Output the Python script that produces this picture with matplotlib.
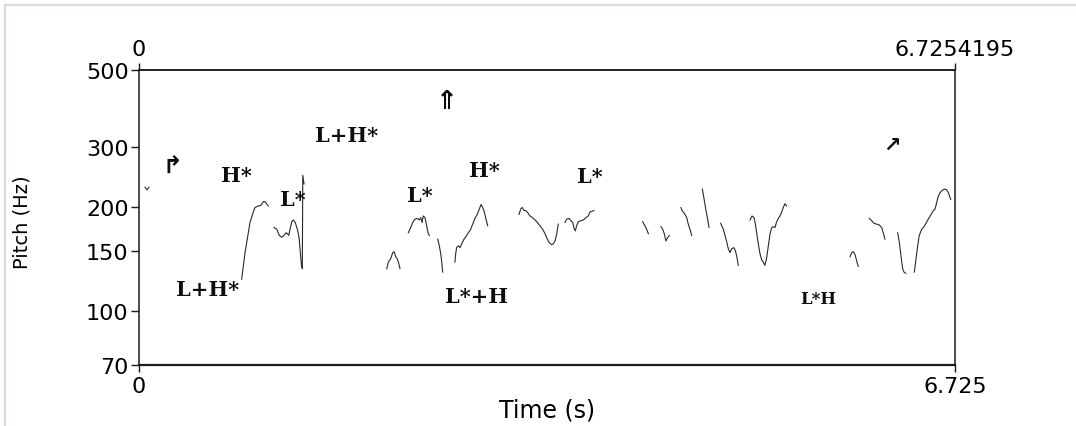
import matplotlib
matplotlib.use("Agg")
import matplotlib.pyplot as plt
from matplotlib.ticker import NullLocator, FixedLocator, FixedFormatter
from matplotlib.lines import Line2D

# ---- data -------------------------------------------------------------
duration = 6.7254195

# voiced stretches of the F0 track: times (s) and pitch (Hz)
contour_t = [
    [0.049, 0.066, 0.082],
    [0.846, 0.874, 0.915, 0.942, 0.956, 0.983, 1.006, 1.024, 1.038, 1.052, 1.066],
    [1.113, 1.135, 1.156, 1.176, 1.195, 1.212, 1.222, 1.234, 1.245, 1.259, 1.272,
     1.288, 1.305, 1.319, 1.327, 1.338, 1.346, 1.350, 1.360],
    [2.042, 2.055, 2.074, 2.091, 2.102, 2.116, 2.129, 2.143, 2.151],
    [2.220, 2.239, 2.256, 2.275, 2.294, 2.310, 2.322, 2.333, 2.343, 2.357, 2.371,
     2.384, 2.393],
    [2.462, 2.475, 2.487, 2.495, 2.503],
    [2.604, 2.610, 2.618, 2.632, 2.646, 2.660, 2.679, 2.701, 2.714, 2.734, 2.750,
     2.769, 2.788, 2.805, 2.819, 2.833, 2.846, 2.860, 2.874],
    [3.132, 3.146, 3.159, 3.173, 3.187, 3.200, 3.223, 3.250, 3.278, 3.305, 3.327,
     3.346, 3.365, 3.382, 3.401, 3.415, 3.429, 3.443, 3.451, 3.456],
    [3.511, 3.525, 3.544, 3.561, 3.575, 3.586, 3.596, 3.607, 3.621, 3.640, 3.662,
     3.684, 3.703, 3.717, 3.736, 3.750],
    [4.151, 4.170, 4.184, 4.198],
    [4.302, 4.316, 4.329, 4.343, 4.354, 4.371],
    [4.467, 4.475, 4.486, 4.500, 4.514, 4.527, 4.541, 4.555],
    [4.643, 4.657, 4.673, 4.687, 4.698],
    [4.794, 4.816, 4.830, 4.844, 4.857, 4.871, 4.885, 4.904, 4.915, 4.926, 4.939],
    [5.036, 5.053, 5.069, 5.080, 5.091, 5.104, 5.118, 5.132, 5.145, 5.159, 5.173,
     5.187, 5.201, 5.215, 5.228, 5.242, 5.256, 5.269, 5.283, 5.297, 5.310, 5.324,
     5.338],
    [5.860, 5.874, 5.888, 5.902, 5.915, 5.928],
    [6.019, 6.039, 6.058, 6.080, 6.101, 6.121, 6.134, 6.148],
    [6.253, 6.266, 6.280, 6.294, 6.305, 6.319],
    [6.390, 6.404, 6.418, 6.431, 6.451, 6.470, 6.486, 6.505, 6.525, 6.547, 6.561,
     6.575, 6.588, 6.608, 6.624, 6.643, 6.657, 6.670, 6.690],
]
contour_hz = [
    [229, 225, 229],
    [124, 148, 181, 194, 200, 202, 203, 208, 208, 205, 202],
    [175, 173, 166, 164, 166, 169, 168, 166, 173, 182, 184,
     181, 173, 164, 152, 137, 133, 248, 234],
    [133, 139, 142, 148, 149, 144, 142, 137, 133],
    [169, 175, 181, 185, 186, 184, 187, 181, 189, 187, 177, 168, 166],
    [162, 155, 147, 139, 130],
    [139, 147, 153, 155, 153, 157, 162, 166, 169, 173, 179,
     186, 191, 198, 204, 200, 194, 185, 177],
    [191, 198, 200, 196, 196, 194, 189, 186, 182, 177, 173,
     168, 162, 158, 156, 157, 160, 168, 175, 179],
    [181, 185, 186, 183, 181, 174, 171, 177, 182, 183, 184,
     187, 189, 194, 195, 196],
    [182, 177, 173, 168],
    [176, 173, 168, 160, 163, 166],
    [200, 196, 194, 191, 187, 179, 173, 166],
    [226, 212, 196, 185, 175],
    [180, 173, 166, 159, 152, 148, 152, 153, 150, 145, 136],
    [184, 189, 187, 179, 169, 157, 147, 141, 139, 136, 143,
     155, 168, 175, 176, 175, 182, 186, 189, 194, 200, 205, 202],
    [144, 148, 149, 146, 140, 135],
    [186, 183, 180, 179, 178, 175, 169, 162],
    [169, 159, 145, 133, 130, 129],
    [130, 142, 155, 166, 173, 176, 180, 185, 190, 196, 198,
     207, 216, 222, 225, 226, 225, 221, 211],
]

# ToBI-style tone labels and their anchors (time, Hz)
tone_labels = ["H*", "L*", "L+H*", "L+H*", "L*", "H*", "L*+H", "L*", "L*H"]
tone_t = [0.799, 1.269, 1.714, 0.569, 2.316, 2.843, 2.786, 3.717, 5.596]
tone_hz = [248, 212, 324, 116, 217, 257, 111, 247, 109]
tone_size = [15, 15, 15, 15, 15, 15, 15, 15, 12]

# phrasing / pitch-range symbols
arrow_labels = ["\u21b1", "\u21d1", "\u2197"]
arrow_t = [0.272, 2.539, 6.206]
arrow_hz = [265, 407, 303]

y_ticks = [70, 100, 150, 200, 300, 500]
y_ticklabels = ["70", "100", "150", "200", "300", "500"]
x_ticks = [0, duration]
x_bottom_labels = ["0", "6.725"]
x_top_labels = ["0", "6.7254195"]

# ---- figure -----------------------------------------------------------
W, H = 1076, 427
fig = plt.figure(figsize=(W / 100, H / 100), dpi=100)
fig.patch.set_facecolor("white")

left, right, top, bottom = 139, 955, 71, 366
ax = fig.add_axes([left / W, 1 - bottom / H, (right - left) / W, (bottom - top) / H])

ink = "#1a1a1a"
for segt, segf in zip(contour_t, contour_hz):
    ax.plot(segt, segf, color="#2a2a2a", lw=0.8, solid_joinstyle="round")

ax.set_yscale("log")
ax.set_ylim(70, 500)
ax.set_xlim(0, duration)

ax.yaxis.set_major_locator(FixedLocator(y_ticks))
ax.yaxis.set_major_formatter(FixedFormatter(y_ticklabels))
ax.yaxis.set_minor_locator(NullLocator())
ax.xaxis.set_major_locator(FixedLocator(x_ticks))
ax.xaxis.set_major_formatter(FixedFormatter(x_bottom_labels))
ax.xaxis.set_minor_locator(NullLocator())

tick_font = dict(family="DejaVu Sans", size=16)
ax.tick_params(axis="y", direction="out", length=5.5, width=1.0, color=ink,
               pad=2, labelsize=tick_font["size"], labelcolor="black")
ax.tick_params(axis="x", direction="out", length=5, width=1.0, color=ink,
               pad=3, labelsize=tick_font["size"], labelcolor="black")
for lab in ax.get_xticklabels() + ax.get_yticklabels():
    lab.set_family(tick_font["family"])

top_ax = ax.secondary_xaxis("top")
top_ax.xaxis.set_major_locator(FixedLocator(x_ticks))
top_ax.xaxis.set_major_formatter(FixedFormatter(x_top_labels))
top_ax.xaxis.set_minor_locator(NullLocator())
top_ax.tick_params(direction="out", length=5, width=1.0, color=ink, pad=3,
                   labelsize=tick_font["size"], labelcolor="black")
top_ax.spines["top"].set_linewidth(1.1)
top_ax.spines["top"].set_color(ink)
for lab in top_ax.get_xticklabels():
    lab.set_family(tick_font["family"])

for side in ("left", "right", "top", "bottom"):
    ax.spines[side].set_linewidth(1.1)
    ax.spines[side].set_color(ink)
ax.spines["bottom"].set_linewidth(1.6)

fig.text(547 / W, 1 - 411 / H, "Time (s)", ha="center", va="center",
         family="DejaVu Sans", size=17, color="black")
fig.text(22 / W, 1 - 222 / H, "Pitch (Hz)", ha="center", va="center",
         rotation=90, family="DejaVu Sans", size=14, color="black")

for lab, t, f, s in zip(tone_labels, tone_t, tone_hz, tone_size):
    ax.text(t, f, lab, ha="center", va="center", family="DejaVu Serif",
            weight="bold", size=s, color="#0d0d0d")

arrow_sizes = [17, 19, 15]
for lab, t, f, s in zip(arrow_labels, arrow_t, arrow_hz, arrow_sizes):
    ax.text(t, f, lab, ha="center", va="center", family="DejaVu Sans",
            weight="bold", size=s, color="#0d0d0d")

# light frame around the whole graphic
frame_col = "#d3dae8"
fig.add_artist(Line2D([5 / W, 1], [1 - 6 / H, 1 - 6 / H], color=frame_col,
                      lw=1.6, transform=fig.transFigure))
fig.add_artist(Line2D([5 / W, 5 / W], [0, 1 - 6 / H], color=frame_col,
                      lw=1.6, transform=fig.transFigure))

fig.savefig("out.png", dpi=100, facecolor="white")
